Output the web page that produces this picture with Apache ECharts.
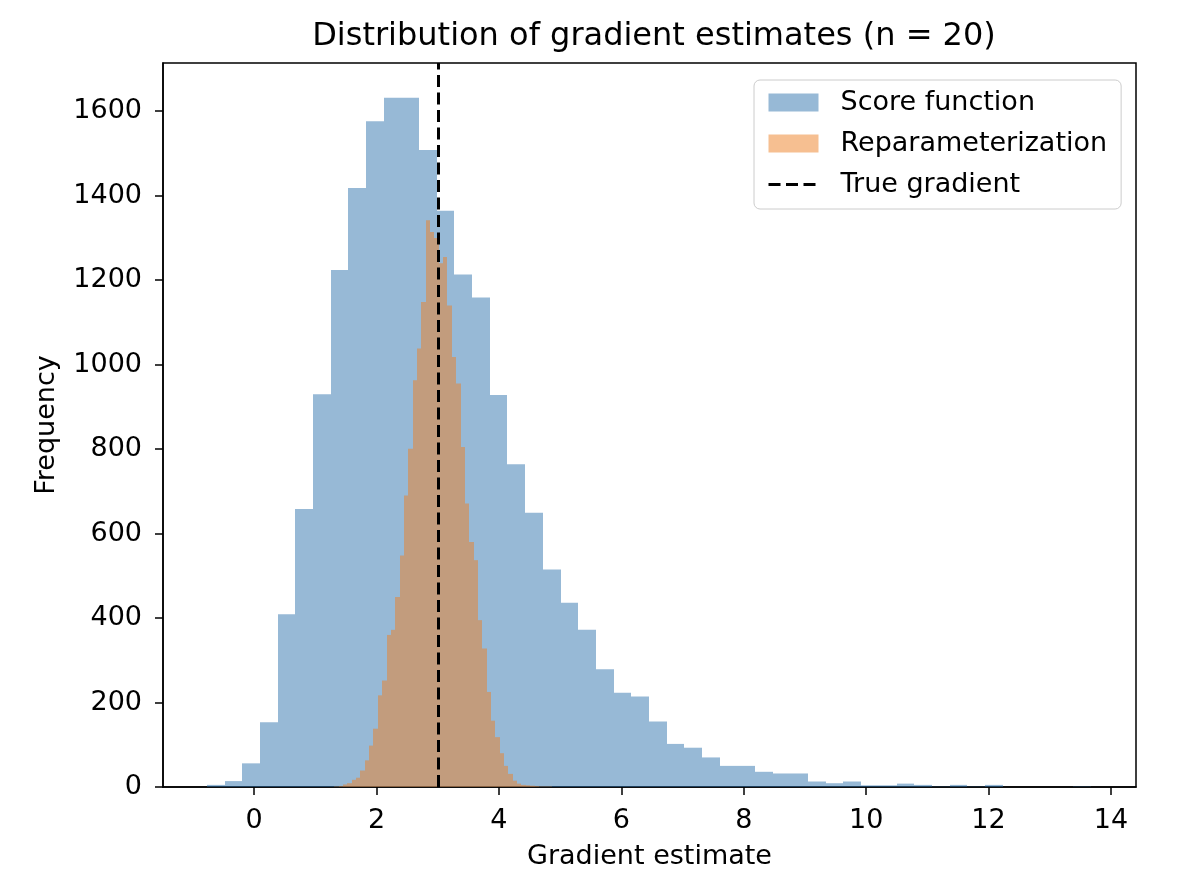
<!DOCTYPE html>
<html>
<head>
<meta charset="utf-8">
<script src="https://cdn.jsdelivr.net/npm/echarts@6/dist/echarts.min.js"></script>
<style>
html, body { margin: 0; padding: 0; background: #ffffff; }
#chart { width: 1200px; height: 896px; }
</style>
</head>
<body>
<div id="chart"></div>
<script>
// ---- data ----
const titleText = 'Distribution of gradient estimates (n = 20)';
const xAxisName = 'Gradient estimate';
const yAxisName = 'Frequency';
const seriesNames = ['Score function', 'Reparameterization', 'True gradient'];

// Score function histogram: equal-width bins starting at scoreBinStart
const scoreBinStart = -0.774;
const scoreBinWidth = 0.289;
const scoreCounts = [5, 14, 56, 153, 409, 658, 930, 1224, 1418, 1576,
  1632, 1632, 1508, 1364, 1213, 1159, 928, 764, 649, 515,
  436, 372, 279, 223, 214, 155, 102, 93, 70, 50,
  50, 36, 32, 32, 13, 9, 13, 4, 4, 8,
  5, 1, 5, 1, 5, 0, 0, 0, 0, 1];

// Reparameterization histogram
const reparamBinStart = 1.3085;
const reparamBinWidth = 0.07115;
const reparamCounts = [1, 2, 6, 9, 17, 22, 39, 63, 98, 138,
  217, 252, 360, 372, 450, 548, 690, 801, 963, 1038,
  1148, 1342, 1314, 1300, 1240, 1255, 1140, 1018, 955, 805,
  671, 580, 537, 395, 328, 225, 157, 118, 80, 50,
  31, 15, 8, 5, 4, 3, 2, 1, 1, 1];

const trueGradient = 3;

const xTicks = [0, 2, 4, 6, 8, 10, 12, 14];
const yTicks = [0, 200, 400, 600, 800, 1000, 1200, 1400, 1600];
const xMin = -1.49;
const xMax = 14.41;
const yMax = 1714;

// ---- build ----
function toBins(start, width, counts) {
  return counts.map(function (c, i) { return [start + i * width, start + (i + 1) * width, c]; });
}

function histRender(fill) {
  return function (params, api) {
    const top = api.coord([api.value(0), api.value(2)]);
    const base = api.coord([api.value(1), 0]);
    const x0 = Math.round(top[0]);
    const x1 = Math.round(base[0]);
    return {
      type: 'rect',
      shape: { x: x0, y: top[1], width: x1 - x0, height: base[1] - top[1] },
      style: { fill: fill }
    };
  };
}

const FONT = 'DejaVu Sans';
const FS = 27;
const blueFill = 'rgba(47,115,173,0.5)';
const orangeFill = 'rgba(237,128,35,0.5)';
const dash = [12, 5.5];
const plain = function (v) { return String(v); };

const chart = echarts.init(document.getElementById('chart'), null, { renderer: 'canvas' });
chart.setOption({
  animation: false,
  backgroundColor: '#ffffff',
  title: {
    text: titleText,
    left: 649,
    top: 16,
    textAlign: 'center',
    textStyle: { fontFamily: FONT, fontSize: 32, fontWeight: 'normal', color: '#000000' }
  },
  legend: {
    orient: 'vertical',
    left: 754,
    top: 80,
    selectedMode: false,
    itemWidth: 50,
    itemHeight: 18,
    itemGap: 14,
    padding: [9, 14, 11, 13],
    backgroundColor: 'rgba(255,255,255,0.8)',
    borderColor: '#cccccc',
    borderWidth: 1,
    borderRadius: 6,
    textStyle: { fontFamily: FONT, fontSize: FS, color: '#000000', padding: [0, 0, 0, 17] },
    data: [
      { name: seriesNames[0], icon: 'rect' },
      { name: seriesNames[1], icon: 'rect' },
      {
        name: seriesNames[2],
        lineStyle: { width: 3, type: dash, color: '#000000' },
        itemStyle: { color: 'rgba(0,0,0,0)', borderWidth: 0, opacity: 0 }
      }
    ]
  },
  grid: {
    left: 163, right: 64, top: 63, bottom: 109,
    show: true, borderColor: '#000000', borderWidth: 1.5, backgroundColor: 'transparent'
  },
  xAxis: {
    type: 'value',
    min: xMin,
    max: xMax,
    name: xAxisName,
    nameLocation: 'middle',
    nameGap: 56,
    nameTextStyle: { fontFamily: FONT, fontSize: FS, color: '#000000' },
    splitLine: { show: false },
    axisLine: { show: true, onZero: false, lineStyle: { color: '#000000', width: 1.5 } },
    axisTick: { show: true, length: 8, customValues: xTicks, lineStyle: { color: '#000000', width: 1.5 } },
    axisLabel: { customValues: xTicks, formatter: plain, margin: 20, fontFamily: FONT, fontSize: FS, color: '#000000' }
  },
  yAxis: {
    type: 'value',
    min: 0,
    max: yMax,
    name: yAxisName,
    nameLocation: 'middle',
    nameGap: 103,
    nameTextStyle: { fontFamily: FONT, fontSize: FS, color: '#000000' },
    splitLine: { show: false },
    axisLine: { show: true, onZero: false, lineStyle: { color: '#000000', width: 1.5 } },
    axisTick: { show: true, length: 8, customValues: yTicks, lineStyle: { color: '#000000', width: 1.5 } },
    axisLabel: { customValues: yTicks, formatter: plain, margin: 21, fontFamily: FONT, fontSize: FS, color: '#000000' }
  },
  series: [
    {
      name: seriesNames[0],
      type: 'custom',
      itemStyle: { color: blueFill },
      renderItem: histRender(blueFill),
      encode: { x: [0, 1], y: 2 },
      data: toBins(scoreBinStart, scoreBinWidth, scoreCounts),
      z: 2
    },
    {
      name: seriesNames[1],
      type: 'custom',
      itemStyle: { color: orangeFill },
      renderItem: histRender(orangeFill),
      encode: { x: [0, 1], y: 2 },
      data: toBins(reparamBinStart, reparamBinWidth, reparamCounts),
      z: 3
    },
    {
      name: seriesNames[2],
      type: 'line',
      data: [],
      symbol: 'none',
      itemStyle: { color: '#000000' },
      lineStyle: { color: '#000000', width: 3, type: dash },
      z: 5,
      markLine: {
        silent: true,
        symbol: 'none',
        label: { show: false },
        lineStyle: { color: '#000000', width: 3, type: dash },
        data: [{ xAxis: trueGradient }]
      }
    }
  ]
});
</script>
</body>
</html>
